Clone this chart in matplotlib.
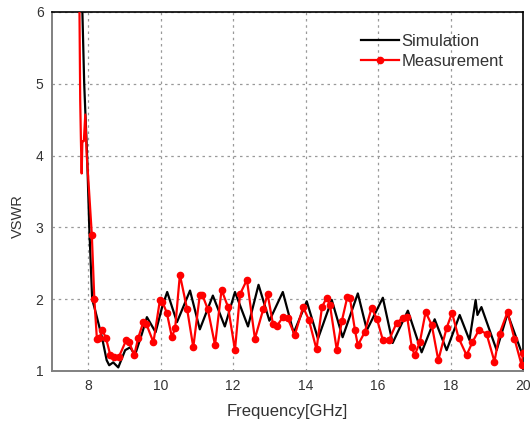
import numpy as np
from matplotlib import pyplot as plt

plt.rcParams['font.family'] = ['Liberation Sans', 'DejaVu Sans']

# Simulation (black) - frequency in GHz, VSWR
sim_freq = [7.84, 7.89, 7.97, 8.03, 8.11, 8.19, 8.38, 8.51, 8.58, 8.69, 8.83,
            9.02, 9.16, 9.29, 9.49, 9.62, 9.86, 10.04, 10.18, 10.45, 10.81,
            11.08, 11.44, 11.77, 12.05, 12.41, 12.70, 13.0, 13.37, 13.67,
            14.03, 14.34, 14.72, 15.02, 15.44, 15.69, 16.13, 16.4, 16.82,
            17.2, 17.56, 17.89, 18.25, 18.52, 18.69, 18.74, 18.85, 19.27,
            19.57, 20.0]
sim_vswr = [6.0, 5.0, 4.0, 3.0, 2.0, 1.85, 1.47, 1.15, 1.08, 1.12, 1.05,
            1.29, 1.33, 1.22, 1.53, 1.75, 1.54, 1.89, 2.1, 1.68, 2.12,
            1.58, 2.05, 1.62, 2.1, 1.62, 2.2, 1.7, 2.1, 1.53,
            1.97, 1.45, 1.99, 1.47, 2.08, 1.57, 2.02, 1.39, 1.84,
            1.26, 1.72, 1.29, 1.78, 1.43, 1.99, 1.78, 1.89, 1.29,
            1.8, 1.2]

# Measurement (red)
meas_freq = [7.76, 7.78, 7.80, 7.82, 7.84, 7.88, 7.92, 7.96, 8.0, 8.05,
             8.10, 8.17, 8.24, 8.31, 8.39, 8.49, 8.61, 8.72, 8.85, 9.05,
             9.13, 9.27, 9.38, 9.52, 9.6, 9.8, 9.98, 10.05, 10.17, 10.31,
             10.4, 10.53, 10.73, 10.9, 11.08, 11.15, 11.3, 11.5, 11.68, 11.86,
             12.05, 12.19, 12.38, 12.6, 12.83, 12.95, 13.1, 13.2, 13.37, 13.5,
             13.7, 13.93, 14.09, 14.3, 14.45, 14.58, 14.67, 14.86, 15.0, 15.15,
             15.22, 15.36, 15.44, 15.63, 15.82, 15.97, 16.13, 16.3, 16.51, 16.68,
             16.8, 16.93, 17.01, 17.15, 17.31, 17.48, 17.66, 17.89, 18.04, 18.22,
             18.44, 18.6, 18.78, 18.99, 19.21, 19.35, 19.57, 19.76, 19.96, 20.0]
meas_vswr = [6.0, 4.77, 4.2, 3.75, 4.2, 4.2, 4.57, 4.0, 3.7, 3.3,
             2.9, 2.0, 1.45, 1.46, 1.57, 1.46, 1.22, 1.2, 1.2, 1.43,
             1.4, 1.22, 1.46, 1.68, 1.66, 1.4, 1.99, 1.96, 1.81, 1.47,
             1.6, 2.34, 1.86, 1.33, 2.06, 2.06, 1.86, 1.36, 2.13, 1.89,
             1.29, 2.07, 2.27, 1.45, 1.86, 2.07, 1.65, 1.62, 1.75, 1.74,
             1.5, 1.89, 1.71, 1.3, 1.89, 2.02, 1.92, 1.29, 1.7, 2.03,
             2.02, 1.57, 1.36, 1.54, 1.88, 1.72, 1.43, 1.43, 1.67, 1.74,
             1.75, 1.33, 1.22, 1.4, 1.82, 1.64, 1.15, 1.6, 1.81, 1.46,
             1.22, 1.4, 1.57, 1.52, 1.13, 1.52, 1.82, 1.45, 1.08, 1.25]

x_ticks = [8, 10, 12, 14, 16, 18, 20]
y_ticks = [1, 2, 3, 4, 5, 6]

fig = plt.figure(figsize=(5.30, 4.24), dpi=100)
ax = fig.add_axes([0.098, 0.125, 0.889, 0.847])

ax.plot(sim_freq, sim_vswr, color='black', lw=1.6, label='Simulation', zorder=3)
ax.plot(meas_freq, meas_vswr, color='#ff0000', lw=1.6, marker='o', ms=4.5,
        markevery=slice(10, None), label='Measurement', zorder=4)

ax.set_xlim(7, 20)
ax.set_ylim(1, 6)
ax.set_xticks(x_ticks)
ax.set_yticks(y_ticks)
ax.tick_params(length=0, labelsize=10, pad=6, colors='#333333')
ax.grid(True, color='#999999', linestyle=(0, (2, 3)), linewidth=0.9)

for side in ['left', 'bottom']:
    ax.spines[side].set_color('#808080')
    ax.spines[side].set_linewidth(1.4)
for side in ['top', 'right']:
    ax.spines[side].set_color('black')
    ax.spines[side].set_linewidth(1.2)

ax.set_xlabel('Frequency[GHz]', fontsize=12, color='#333333', labelpad=8)
ax.set_ylabel('VSWR', fontsize=10.5, color='#333333')
ax.yaxis.set_label_coords(-0.057, 0.432)

ax.legend(loc='upper right', bbox_to_anchor=(0.99, 0.98), frameon=False,
          fontsize=12, handlelength=2.3, handletextpad=0.15, labelspacing=0.3,
          labelcolor='#333333')

plt.savefig('out.png', dpi=100)
plt.close()
